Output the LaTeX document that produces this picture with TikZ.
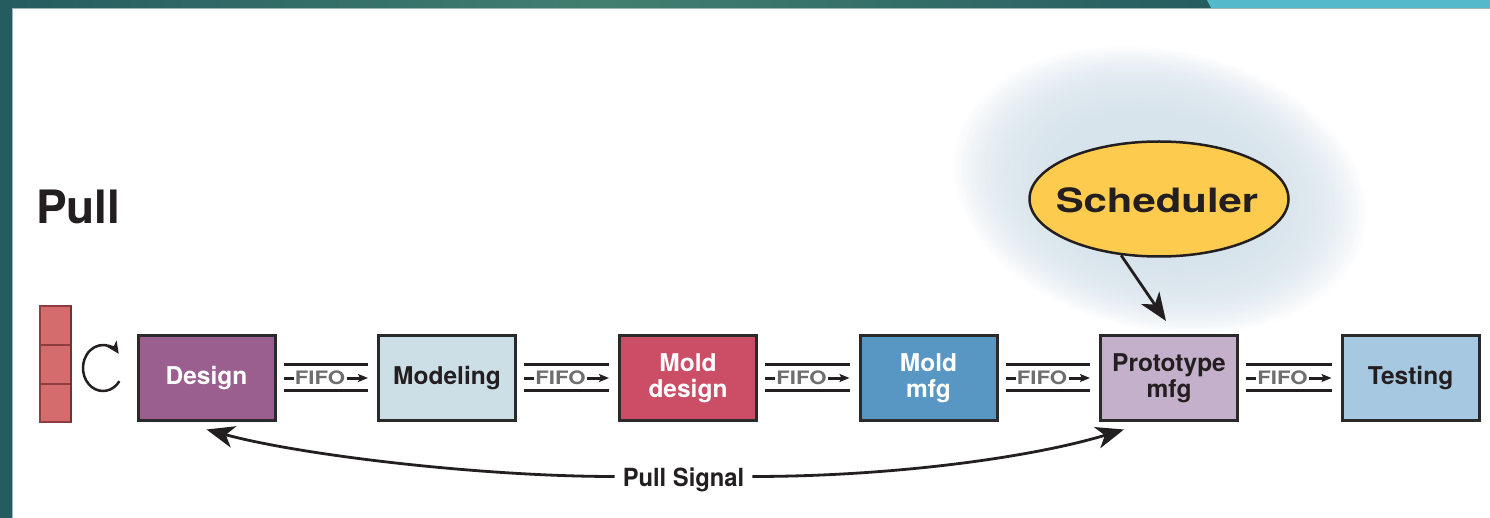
\documentclass[tikz,border=0pt]{standalone}
\usepackage{fontspec}
\usepackage{graphicx}
\setmainfont{TeX Gyre Heros}
\usetikzlibrary{arrows.meta,shapes.geometric}
\definecolor{barA}{HTML}{255C60}
\definecolor{barB}{HTML}{427F70}
\definecolor{lightbar}{HTML}{55B9CC}
\definecolor{boxline}{HTML}{2B2A2A}
\definecolor{cdesign}{HTML}{9A5E8F}
\definecolor{cmodeling}{HTML}{CCDFE6}
\definecolor{cmolddesign}{HTML}{CC4E66}
\definecolor{cmoldmfg}{HTML}{5896C3}
\definecolor{cproto}{HTML}{C5B0CB}
\definecolor{ctesting}{HTML}{A7C8E1}
\definecolor{csched}{HTML}{FDCB4D}
\definecolor{glowc}{HTML}{D8E4EC}
\definecolor{fifogray}{HTML}{6E6E6E}
\definecolor{stackred}{HTML}{D46B6C}
\definecolor{stackdark}{HTML}{8E3E40}
\definecolor{ink}{HTML}{231F20}
\newcommand{\hs}[2]{\scalebox{#1}[1]{#2}}
\begin{document}
\begin{tikzpicture}[x=1pt,y=-1pt,
  procbox/.style={draw=boxline, line width=3pt, minimum width=137pt, minimum height=85pt,
    inner sep=0pt, align=center, font=\bfseries\fontsize{24.5}{26}\selectfont},
  fifoline/.style={draw=ink, line width=3pt},
  fifotext/.style={text=fifogray, font=\bfseries\fontsize{18.5}{18.5}\selectfont, inner sep=0pt},
  bigtip/.style={-{Stealth[length=28pt,width=22pt,inset=8pt]}},
  thick line/.style={draw=ink, line width=2.8pt}
]
\useasboundingbox (0,0) rectangle (1490,518);
\fill[white] (0,0) rectangle (1490,518);
% frame
\shade[left color=barA, right color=barA, middle color=barB] (0,0) rectangle (1212,8);
\fill[lightbar] (1207,0) -- (1490,0) -- (1490,8) -- (1211,8) -- cycle;
\fill[barA] (0,0) rectangle (12,518);
\draw[barA!45!white, line width=0.8pt] (12.4,518) -- (12.4,8.4) -- (1490,8.4);
% glow (concentric ellipses)
\foreach \k in {0,...,44} {
  \pgfmathsetmacro{\t}{\k/44}
  \pgfmathsetmacro{\s}{1-0.6*\t}
  \pgfmathsetmacro{\p}{100*(1-(1-\t)*(1-\t)*(1-\t))}
  \fill[glowc!\p!white, rotate around={-12:(1160,190)}] (1160,190) ellipse [x radius=212*\s, y radius=142*\s];
}
% title
\node[anchor=base west, inner sep=0pt, text=ink, font=\bfseries\fontsize{46}{46}\selectfont] (pull) at (36,224) {Pull};
% stack
\foreach \a/\b in {306/345, 345/384, 384/422} {
  \filldraw[fill=stackred, draw=stackdark, line width=1.2pt] (40,\a) rectangle (71,\b);
}
\draw[stackdark!80!black, line width=2.5pt] (71,306) -- (71,422);
% cycle arrow
\draw[ink, line width=2.5pt, -{Stealth[length=12pt,width=11pt,inset=3pt]}]
  (103,368) ++(35:20 and 23) arc[start angle=35, end angle=322, x radius=20, y radius=23];
% boxes
\node[procbox, fill=cdesign, text=white] (design) at (206.5,378) {Design};
\node[procbox, fill=cmodeling, text=ink] (modeling) at (447,378) {Modeling};
\node[procbox, fill=cmolddesign, text=white] (molddesign) at (688,378) {Mold\\design};
\node[procbox, fill=cmoldmfg, text=white] (moldmfg) at (928.5,378) {Mold\\mfg};
\node[procbox, fill=cproto, text=ink] (proto) at (1169,378) {Prototype\\mfg};
\node[procbox, fill=ctesting, text=ink] (testing) at (1410.5,378) {Testing};
% FIFO lanes
\foreach \p/\q [count=\i] in {design/modeling, modeling/molddesign, molddesign/moldmfg, moldmfg/proto, proto/testing} {
  \draw[fifoline] ([xshift=7pt,yshift=14pt]\p.east) -- ([xshift=-9pt,yshift=14pt]\q.west);
  \draw[fifoline] ([xshift=7pt,yshift=-12pt]\p.east) -- ([xshift=-9pt,yshift=-12pt]\q.west);
  \draw[fifoline] ([xshift=7pt]\p.east) -- ([xshift=17pt]\p.east);
  \node[fifotext] (fifo\i) at ([xshift=43.5pt]\p.east) {\hs{1.2}{FIFO}};
  \draw[fifoline, -{Stealth[length=10pt,width=8pt,inset=2pt]}] ([xshift=70pt]\p.east) -- ([xshift=-9pt]\q.west);
}
% scheduler
\node[ellipse, draw=ink, line width=2.5pt, fill=csched, minimum width=259pt, minimum height=115pt, inner sep=0pt] (sched) at (1159,199) {};
\node[anchor=base, inner sep=0pt, text=ink, font=\bfseries\fontsize{33.5}{34}\selectfont] (schedtext) at (1157,213) {\hs{1.25}{Scheduler}};
\draw[thick line, bigtip] (sched.-124) -- ([xshift=-3pt,yshift=13pt]proto.north);
% pull signal
\node[text=ink, font=\bfseries\fontsize{25}{25}\selectfont, inner xsep=8pt, inner ysep=0pt, text height=19pt, text depth=0pt] (sig) at (683.5,476.5) {\hs{0.95}{Pull Signal}};
\draw[thick line, bigtip] (sig.west) .. controls (480,476.5) and (300,455) .. ([yshift=-7.5pt]design.south);
\draw[thick line, bigtip] (sig.east) .. controls (890,476.5) and (1030,458) .. ([xshift=-45pt,yshift=-7.5pt]proto.south);
\end{tikzpicture}
\end{document}
